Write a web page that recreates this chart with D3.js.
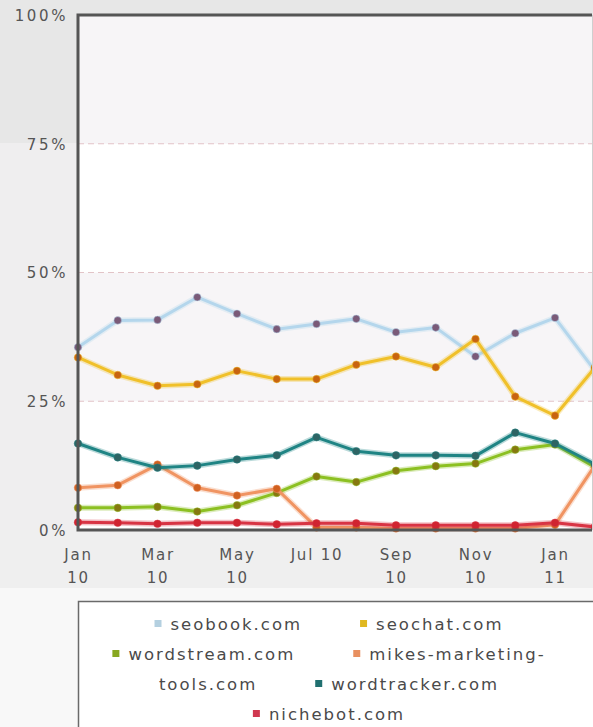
<!DOCTYPE html>
<html>
<head>
<meta charset="utf-8">
<script src="https://cdn.jsdelivr.net/npm/d3@7"></script>
<style>
  body { margin: 0; background: #f8f8f8; }
  svg { display: block; font-family: "DejaVu Sans", Verdana, sans-serif; }
</style>
</head>
<body>
<script>
// month index 0 = Jan 10 ... 13 = Feb 11
const months = ["Jan 10","Feb 10","Mar 10","Apr 10","May 10","Jun 10","Jul 10",
                "Aug 10","Sep 10","Oct 10","Nov 10","Dec 10","Jan 11","Feb 11"];
const tickIdx = [0, 2, 4, 6, 8, 10, 12];
const tickLabels = ["Jan\n10","Mar\n10","May\n10","Jul 10","Sep\n10","Nov\n10","Jan\n11"];
const yTicks = [0, 25, 50, 75, 100];

const seobook     = [35.5, 40.7, 40.8, 45.2, 42.0, 39.0, 40.0, 41.0, 38.4, 39.3, 33.7, 38.2, 41.2, 31.0];
const seochat     = [33.5, 30.1, 28.0, 28.3, 30.9, 29.3, 29.3, 32.1, 33.7, 31.6, 37.1, 25.9, 22.2, 31.5];
const wordstream  = [4.3, 4.3, 4.5, 3.6, 4.8, 7.2, 10.4, 9.3, 11.5, 12.4, 12.9, 15.6, 16.6, 12.2];
const mikes       = [8.2, 8.7, 12.7, 8.2, 6.7, 8.0, 0.5, 0.5, 0.3, 0.3, 0.3, 0.3, 1.0, 12.5];
const wordtracker = [16.8, 14.1, 12.1, 12.5, 13.7, 14.5, 18.0, 15.3, 14.5, 14.5, 14.4, 18.9, 16.8, 12.8];
const nichebot    = [1.5, 1.4, 1.2, 1.4, 1.4, 1.1, 1.3, 1.3, 0.9, 0.9, 0.9, 0.9, 1.4, 0.6];

const series = [
  {name: "seobook.com", values: seobook, line: "#b4d6ec", dot: "#7a5a78", key: "#b4d0e0"},
  {name: "seochat.com", values: seochat, line: "#f0c02a", dot: "#c86410", key: "#e0b820"},
  {name: "wordstream.com", values: wordstream, line: "#8cc022", dot: "#867810", key: "#88a820"},
  {name: "mikes-marketing-tools.com", values: mikes, line: "#f09462", dot: "#d06020", key: "#e89060"},
  {name: "wordtracker.com", values: wordtracker, line: "#1f8484", dot: "#2e6464", key: "#207070"},
  {name: "nichebot.com", values: nichebot, line: "#d83444", dot: "#d02430", key: "#d03850"}
];

// legend rows as they wrap in the picture: [series index, text]
const legendRows = [
  [[0, "seobook.com"], [1, "seochat.com"]],
  [[2, "wordstream.com"], [3, "mikes-marketing-"]],
  [[-1, "tools.com"], [4, "wordtracker.com"]],
  [[5, "nichebot.com"]]
];

const W = 593, H = 727;
const plot = {left: 78, top: 15, bottom: 530, right: 592};

const svg = d3.select("body").append("svg")
    .attr("width", W)
    .attr("height", H);

// page background areas
svg.append("rect").attr("width", W).attr("height", H).attr("fill", "#f8f8f8");
svg.append("rect").attr("width", W).attr("height", 143).attr("fill", "#e7e7e7");
svg.append("rect").attr("y", 143).attr("width", plot.left).attr("height", 445).attr("fill", "#efeeef");
svg.append("rect").attr("y", plot.bottom).attr("width", W).attr("height", 58).attr("fill", "#efefef");

var x = d3.scaleLinear().domain([0, 12]).range([plot.left, 555]);
var y = d3.scaleLinear().domain([0, 100]).range([plot.bottom, plot.top]);

// plot bands
const bands = [[0, 25, "#ffffff"], [25, 50, "#f7f5f7"], [50, 75, "#ffffff"], [75, 100, "#f7f5f7"]];
svg.selectAll(".band")
    .data(bands)
  .enter().append("rect")
    .attr("class", "band")
    .attr("x", plot.left)
    .attr("y", d => y(d[1]))
    .attr("width", plot.right - plot.left)
    .attr("height", d => y(d[0]) - y(d[1]))
    .attr("fill", d => d[2]);

// dashed grid lines
svg.selectAll(".grid")
    .data([25, 50, 75])
  .enter().append("line")
    .attr("class", "grid")
    .attr("x1", plot.left).attr("x2", plot.right)
    .attr("y1", d => y(d)).attr("y2", d => y(d))
    .attr("stroke", "#e2c4c8")
    .attr("stroke-width", 1.2)
    .attr("stroke-dasharray", "6,4");

// right edge
svg.append("line")
    .attr("x1", plot.right + 0.5).attr("x2", plot.right + 0.5)
    .attr("y1", plot.top).attr("y2", plot.bottom)
    .attr("stroke", "#cfcfcf");

// clip for the series (chart is cut at the right)
svg.append("clipPath").attr("id", "clip")
  .append("rect")
    .attr("x", plot.left - 6).attr("y", plot.top)
    .attr("width", plot.right - plot.left + 6).attr("height", plot.bottom - plot.top + 6);

const lineGen = d3.line()
    .x((d, i) => x(i))
    .y(d => y(d));

const g = svg.append("g").attr("clip-path", "url(#clip)");

series.forEach(s => {
  // soft halo
  g.append("path")
      .datum(s.values)
      .attr("d", lineGen)
      .attr("fill", "none")
      .attr("stroke", s.line)
      .attr("stroke-opacity", 0.3)
      .attr("stroke-width", 6)
      .attr("stroke-linejoin", "round");
  g.append("path")
      .datum(s.values)
      .attr("d", lineGen)
      .attr("fill", "none")
      .attr("stroke", s.line)
      .attr("stroke-width", 3)
      .attr("stroke-linejoin", "round");
  g.selectAll(null)
      .data(s.values)
    .enter().append("circle")
      .attr("cx", (d, i) => x(i))
      .attr("cy", d => y(d))
      .attr("r", 3.8)
      .attr("fill", s.dot)
      .attr("stroke", s.line)
      .attr("stroke-opacity", 0.5)
      .attr("stroke-width", 1);
});

// frame lines (left, top, bottom)
svg.append("path")
    .attr("d", "M" + plot.right + "," + plot.top + "H" + plot.left + "V" + plot.bottom + "H" + plot.right)
    .attr("fill", "none")
    .attr("stroke", "#555")
    .attr("stroke-width", 3);

// y axis labels
var yAxis = svg.append("g")
    .attr("transform", "translate(" + plot.left + ",0)")
    .call(d3.axisLeft(y).tickValues(yTicks).tickFormat(d => d + "%").tickSize(0).tickPadding(10));
yAxis.select(".domain").remove();
yAxis.selectAll("text")
    .attr("font-family", "DejaVu Sans")
    .attr("font-size", 15)
    .attr("letter-spacing", 2.6)
    .attr("fill", "#555")
    .attr("dy", "0.36em");

// x axis labels
var xAxis = svg.append("g")
    .attr("transform", "translate(0," + plot.bottom + ")")
    .call(d3.axisBottom(x).tickValues(tickIdx).tickFormat((d, i) => tickLabels[i]).tickSize(0));
xAxis.select(".domain").remove();
xAxis.selectAll("text").each(function() {
  const t = d3.select(this);
  const parts = t.text().split("\n");
  t.text(null)
    .attr("font-family", "DejaVu Sans")
    .attr("font-size", 15)
    .attr("letter-spacing", 1.8)
    .attr("fill", "#555")
    .attr("y", 30)
    .attr("dy", null);
  parts.forEach((p, k) => {
    t.append("tspan").attr("x", 0).attr("y", 30 + k * 23).text(p);
  });
});

// legend
const legendBox = {x: 78, y: 601, cx: 329};
svg.append("rect")
    .attr("x", legendBox.x + 0.5).attr("y", legendBox.y + 0.5)
    .attr("width", 600).attr("height", 200)
    .attr("fill", "#ffffff")
    .attr("stroke", "#6a6a6a")
    .attr("stroke-width", 1.5);

const lg = svg.append("g");
legendRows.forEach((row, r) => {
  const baseY = 630 + r * 30;
  const rowG = lg.append("g");
  let cursor = 0;
  row.forEach((item, k) => {
    if (k > 0) cursor += 58;
    const idx = item[0];
    if (idx >= 0) {
      rowG.append("rect")
          .attr("x", cursor).attr("y", baseY - 10)
          .attr("width", 7).attr("height", 7)
          .attr("fill", series[idx].key);
      cursor += 16;
    }
    const txt = rowG.append("text")
        .attr("x", cursor).attr("y", baseY)
        .attr("font-family", "DejaVu Sans")
        .attr("font-size", 16.5)
        .attr("letter-spacing", 2)
        .attr("fill", "#4a4a4a")
        .text(item[1]);
    cursor += txt.node().getComputedTextLength();
  });
  rowG.attr("transform", "translate(" + (legendBox.cx - cursor / 2) + ",0)");
});
</script>
</body>
</html>
